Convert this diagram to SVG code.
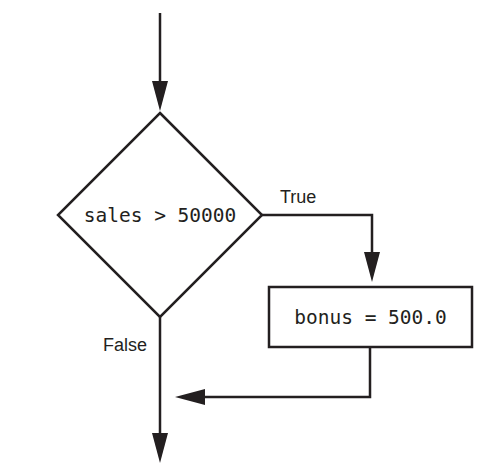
<svg xmlns="http://www.w3.org/2000/svg" width="487" height="475" viewBox="0 0 487 475">
<style>
.shape{fill:#fff;stroke:#231f20;stroke-width:2.5}
.conn{fill:none;stroke:#231f20;stroke-width:2.5;marker-end:url(#arr)}
.lbl{font-family:"Liberation Sans",Arial,sans-serif;font-size:18px;fill:#231f20}
.code{font-family:"DejaVu Sans Mono","Liberation Mono",monospace;font-size:19.5px;fill:#231f20;text-anchor:middle}
</style>
<defs>
<marker id="arr" viewBox="0 0 30 16" markerUnits="userSpaceOnUse" markerWidth="30" markerHeight="16" refX="20" refY="8" orient="auto">
<path d="M0,0 L30,8 L0,16 z" fill="#231f20"/>
</marker>
</defs>
<g id="connectors">
<path class="conn" d="M160,13 V101"/>
<path class="conn" d="M262,215 H372 V272"/>
<path class="conn" d="M370,347 V397 H185"/>
<path class="conn" d="M160,317 V453"/>
</g>
<g id="decision">
<polygon class="shape" points="160,113 262,215 160,317 58,215"/>
<text class="code" x="160" y="222">sales &gt; 50000</text>
</g>
<g id="bonus">
<rect class="shape" x="269" y="287" width="203" height="60"/>
<text class="code" x="370.5" y="324">bonus = 500.0</text>
</g>
<g id="labels">
<text class="lbl" x="280" y="203">True</text>
<text class="lbl" x="103" y="351">False</text>
</g>
</svg>
